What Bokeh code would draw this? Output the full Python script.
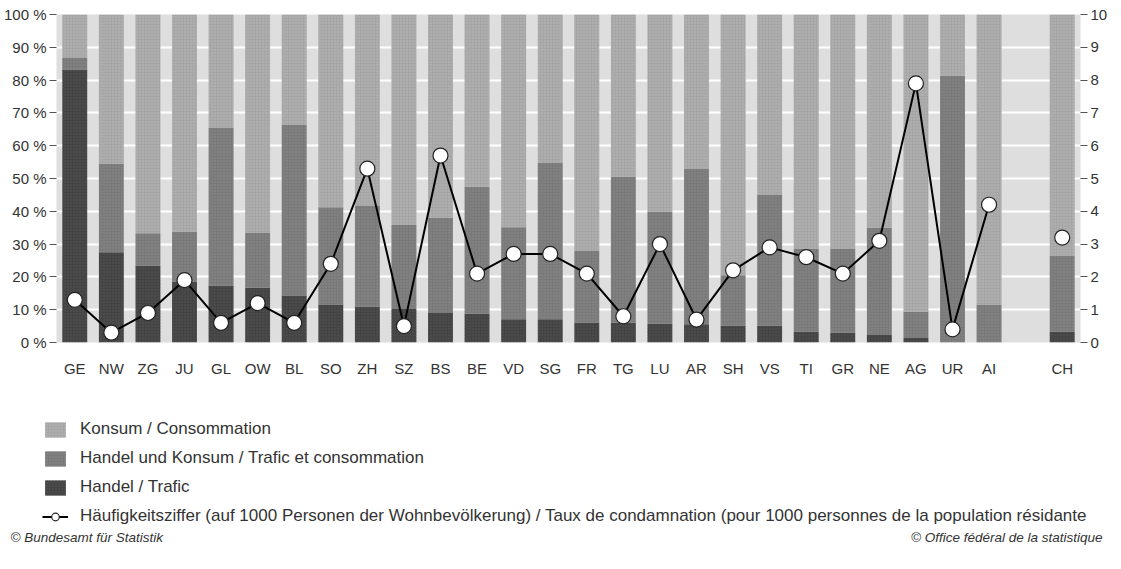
from bokeh.plotting import figure
from bokeh.layouts import column
from bokeh.models import (ColumnDataSource, FactorRange, Range1d, LinearAxis, FixedTicker,
                          PrintfTickFormatter, Legend, LegendItem, Label)
from bokeh.embed import file_html
from bokeh.resources import INLINE

# ---- data ----
categories = ["GE", "NW", "ZG", "JU", "GL", "OW", "BL", "SO", "ZH", "SZ", "BS", "BE", "VD",
              "SG", "FR", "TG", "LU", "AR", "SH", "VS", "TI", "GR", "NE", "AG", "UR", "AI", "CH"]
handel = [83.2, 27.5, 23.4, 18.5, 17.4, 16.7, 14.3, 11.6, 11.0, 10.2, 9.0, 8.8, 7.1,
          7.1, 6.0, 6.0, 5.7, 5.6, 5.1, 5.1, 3.3, 3.0, 2.3, 1.4, 0.0, 0.0, 3.3]
handel_konsum = [3.5, 27.0, 9.9, 15.3, 48.0, 16.7, 52.0, 29.6, 30.8, 25.6, 29.0, 38.7, 28.0,
                 47.8, 21.9, 44.5, 34.2, 47.3, 15.4, 40.0, 25.2, 25.5, 32.7, 8.0, 81.3, 11.4, 23.2]
konsum = [13.3, 45.5, 66.7, 66.2, 34.6, 66.6, 33.7, 58.8, 58.2, 64.2, 62.0, 52.5, 64.9,
          45.1, 72.1, 49.5, 60.1, 47.1, 79.5, 54.9, 71.5, 71.5, 65.0, 90.6, 18.7, 88.6, 73.5]
rate = [1.3, 0.3, 0.9, 1.9, 0.6, 1.2, 0.6, 2.4, 5.3, 0.5, 5.7, 2.1, 2.7,
        2.7, 2.1, 0.8, 3.0, 0.7, 2.2, 2.9, 2.6, 2.1, 3.1, 7.9, 0.4, 4.2, 3.2]
pct_ticks = list(range(0, 101, 10))
rate_ticks = list(range(0, 11))
legend_labels = ["Konsum / Consommation",
                 "Handel und Konsum / Trafic et consommation",
                 "Handel / Trafic",
                 "Häufigkeitsziffer (auf 1000 Personen der Wohnbevölkerung) / Taux de condamnation (pour 1000 personnes de la population résidante"]
source_left = "© Bundesamt für Statistik"
source_right = "© Office fédéral de la statistique"

FONT = "Liberation Sans"
TXT = "#333333"
COLORS = ["#444444", "#7a7a7a", "#a6a6a6"]
HATCH = ["#555555", "#8c8c8c", "#bababa"]

factors = categories[:-1] + [" "] + categories[-1:]

src = ColumnDataSource(dict(x=categories, handel=handel, handel_konsum=handel_konsum,
                            konsum=konsum, rate=rate))
line_src = ColumnDataSource(dict(x=categories[:-1], rate=rate[:-1]))

# ---------------- main chart ----------------
p = figure(x_range=FactorRange(factors=factors, range_padding=0),
           y_range=Range1d(0, 100), frame_width=1024, frame_height=328,
           output_backend="svg", toolbar_location=None,
           min_border_left=54, min_border_top=14, min_border_right=0, min_border_bottom=58)
p.frame_align = False
p.extra_y_ranges = {"rate": Range1d(0, 10)}
p.background_fill_color = "#dedede"
p.border_fill_color = "white"
p.outline_line_color = None

bars = p.vbar_stack(["handel", "handel_konsum", "konsum"], x="x", width=0.68, source=src,
                    color=COLORS, line_color=None)
for r, hc in zip(bars, HATCH):
    r.glyph.hatch_pattern = "dot"
    r.glyph.hatch_color = hc
    r.glyph.hatch_scale = 3
    r.glyph.hatch_weight = 1

ln = p.line(x="x", y="rate", source=line_src, y_range_name="rate",
            line_color="black", line_width=2)
pts = p.scatter(x="x", y="rate", source=src, y_range_name="rate", size=15,
                fill_color="white", line_color="#222222", line_width=1.2)

ya = p.yaxis[0]
ya.ticker = FixedTicker(ticks=pct_ticks)
ya.formatter = PrintfTickFormatter(format="%d %%")
ra = LinearAxis(y_range_name="rate", ticker=FixedTicker(ticks=rate_ticks))
p.add_layout(ra, "right")
for ax in (ya, ra):
    ax.axis_line_color = None
    ax.major_tick_out = 7
    ax.major_tick_in = 0
    ax.major_tick_line_color = "#555555"
    ax.minor_tick_line_color = None
    ax.major_label_standoff = 3
    ax.major_label_text_font = FONT
    ax.major_label_text_font_size = "15px"
    ax.major_label_text_color = TXT

xa = p.xaxis[0]
xa.axis_line_color = None
xa.major_tick_line_color = None
xa.minor_tick_line_color = None
xa.major_label_standoff = 11
xa.major_label_text_font = FONT
xa.major_label_text_font_size = "15px"
xa.major_label_text_color = TXT

p.xgrid.visible = False
p.ygrid.ticker = FixedTicker(ticks=pct_ticks)
p.ygrid.grid_line_color = "white"
p.ygrid.grid_line_width = 2

# ---------------- legend / footer panel ----------------
H2 = 153
q = figure(x_range=Range1d(0, 1105), y_range=Range1d(0, H2), width=1105, height=H2,
           output_backend="svg", toolbar_location=None, x_axis_type=None, y_axis_type=None,
           min_border=0, min_border_left=0, min_border_right=0, min_border_top=0,
           min_border_bottom=0)
q.frame_align = False
q.outline_line_color = None
q.background_fill_color = "white"
q.border_fill_color = "white"
q.xgrid.visible = False
q.ygrid.visible = False

# invisible proxy renderers, only used to draw the legend glyphs
proxy_bars = [q.vbar(x=[0], top=[0], width=1, color=c, line_color=None, visible=False,
                     hatch_pattern="dot", hatch_color=hc, hatch_scale=3, hatch_weight=1)
              for c, hc in zip(COLORS, HATCH)]
proxy_line = q.line(x=[0, 1], y=[0, 0], line_color="black", line_width=2, visible=False)
proxy_pts = q.scatter(x=[0], y=[0], size=15, fill_color="white", line_color="#222222",
                      line_width=1.2, visible=False)

legend = Legend(items=[LegendItem(label=legend_labels[0], renderers=[proxy_bars[2]]),
                       LegendItem(label=legend_labels[1], renderers=[proxy_bars[1]]),
                       LegendItem(label=legend_labels[2], renderers=[proxy_bars[0]]),
                       LegendItem(label=legend_labels[3], renderers=[proxy_line, proxy_pts])],
                location=(42, 27), orientation="vertical",
                glyph_width=26, glyph_height=19, spacing=9, padding=0, margin=0,
                label_standoff=12, label_height=19,
                border_line_color=None, background_fill_alpha=0,
                label_text_font=FONT, label_text_font_size="17px", label_text_color=TXT)
q.add_layout(legend)

q.add_layout(Label(x=10, y=16, x_units="screen", y_units="screen", text=source_left,
                   text_font=FONT, text_font_style="italic", text_font_size="13.5px",
                   text_color=TXT, text_baseline="middle"))
q.add_layout(Label(x=1102, y=16, x_units="screen", y_units="screen", text=source_right,
                   text_font=FONT, text_font_style="italic", text_font_size="13.5px",
                   text_color=TXT, text_baseline="middle", text_align="right"))

layout = column(p, q, spacing=0)
open("out.html", "w").write(file_html(layout, INLINE))
